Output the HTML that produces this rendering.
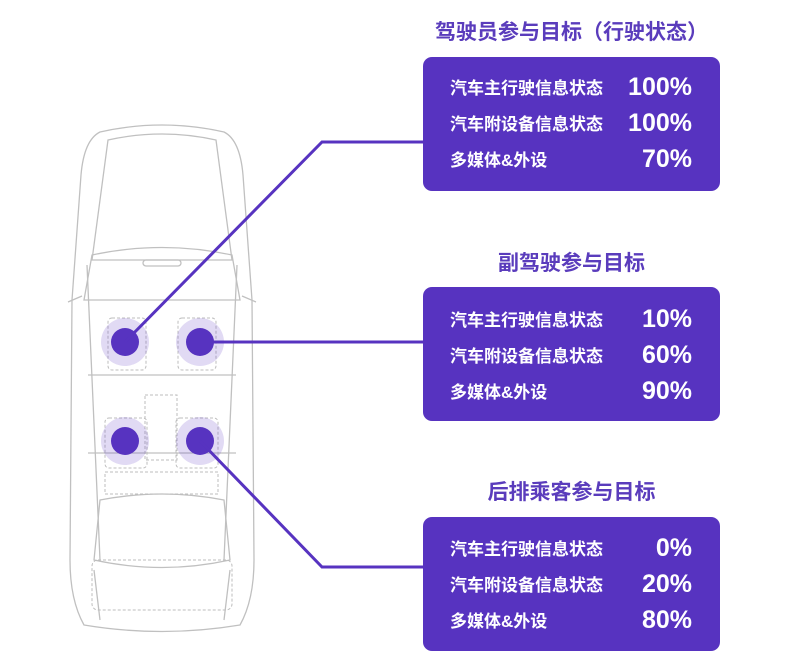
<!DOCTYPE html>
<html><head><meta charset="utf-8"><style>
body{margin:0;width:800px;height:661px;background:#fff;position:relative;overflow:hidden;font-family:"Liberation Sans","Noto Sans CJK SC",sans-serif}
.t{position:absolute;left:413px;width:317px;text-align:center;color:#5a3cbc;font-weight:bold;font-size:21px;line-height:26px}
.p{position:absolute;left:423px;width:297px;height:134px;background:#5733c0;border-radius:9px;color:#fff}
.r{position:absolute;left:27px;width:242px;height:30px}
.r span{position:absolute;left:0;top:1px;font-size:17px;font-weight:bold}
.r b{position:absolute;right:0;top:0px;font-size:25px;font-family:"Liberation Sans",sans-serif}
</style></head><body>
<svg width="800" height="661" style="position:absolute;left:0;top:0">
<g fill="none" stroke="#c0c0c0" stroke-width="1.3">
<path d="M100 132 Q162 118 224 132 Q240 140 243 175 L252 300 L254 560 Q254 600 240 625 Q162 638 84 625 Q70 600 70 560 L72 300 L81 175 Q84 140 100 132Z"/>
<path d="M108 140 Q162 128 216 140 L232 260 L92 260 L108 140Z"/>
<path d="M92 255 Q162 240 232 255 L240 300 L84 300 Z"/>
<path d="M87 265 L100 560 M237 265 L224 560"/>
<path d="M100 500 Q162 488 224 500 L230 560 Q162 575 94 560 Z"/>
<path d="M94 570 L100 620 M230 570 L224 620"/>
<rect x="143" y="260" width="38" height="6" rx="3"/>
<path d="M68 302 L82 296 M256 302 L242 296"/>
<path d="M88 375 L236 375 M88 453 L236 453"/>
</g>
<g fill="none" stroke="#bdbdbd" stroke-width="1" stroke-dasharray="3,2">
<rect x="108" y="318" width="38" height="52" rx="4"/>
<rect x="178" y="318" width="38" height="52" rx="4"/>
<rect x="105" y="418" width="42" height="50" rx="4"/>
<rect x="176" y="418" width="42" height="50" rx="4"/>
<rect x="145" y="395" width="32" height="65"/>
<rect x="105" y="472" width="113" height="22"/>
<rect x="92" y="560" width="140" height="50" rx="6"/>
</g>
<g fill="#5733c0">
<circle cx="125" cy="342" r="24" opacity="0.18"/><circle cx="200" cy="342" r="24" opacity="0.18"/>
<circle cx="125" cy="441" r="24" opacity="0.18"/><circle cx="200" cy="441" r="24" opacity="0.18"/>
<circle cx="125" cy="342" r="14"/><circle cx="200" cy="342" r="14"/>
<circle cx="125" cy="441" r="14"/><circle cx="200" cy="441" r="14"/>
</g>
<g fill="none" stroke="#5733c0" stroke-width="3">
<path d="M125 342 L322 142 L424 142"/>
<path d="M200 342 L424 342"/>
<path d="M200 441 L322 567 L424 567"/>
</g>
</svg>
<div class="t" style="top:20px">驾驶员参与目标（行驶状态）</div>
<div class="p" style="top:57px">
<div class="r" style="top:16px"><span>汽车主行驶信息状态</span><b>100%</b></div>
<div class="r" style="top:52px"><span>汽车附设备信息状态</span><b>100%</b></div>
<div class="r" style="top:88px"><span>多媒体&amp;外设</span><b>70%</b></div>
</div>
<div class="t" style="top:251px">副驾驶参与目标</div>
<div class="p" style="top:287px">
<div class="r" style="top:18px"><span>汽车主行驶信息状态</span><b>10%</b></div>
<div class="r" style="top:54px"><span>汽车附设备信息状态</span><b>60%</b></div>
<div class="r" style="top:90px"><span>多媒体&amp;外设</span><b>90%</b></div>
</div>
<div class="t" style="top:480px">后排乘客参与目标</div>
<div class="p" style="top:517px">
<div class="r" style="top:17px"><span>汽车主行驶信息状态</span><b>0%</b></div>
<div class="r" style="top:53px"><span>汽车附设备信息状态</span><b>20%</b></div>
<div class="r" style="top:89px"><span>多媒体&amp;外设</span><b>80%</b></div>
</div>
</body></html>
